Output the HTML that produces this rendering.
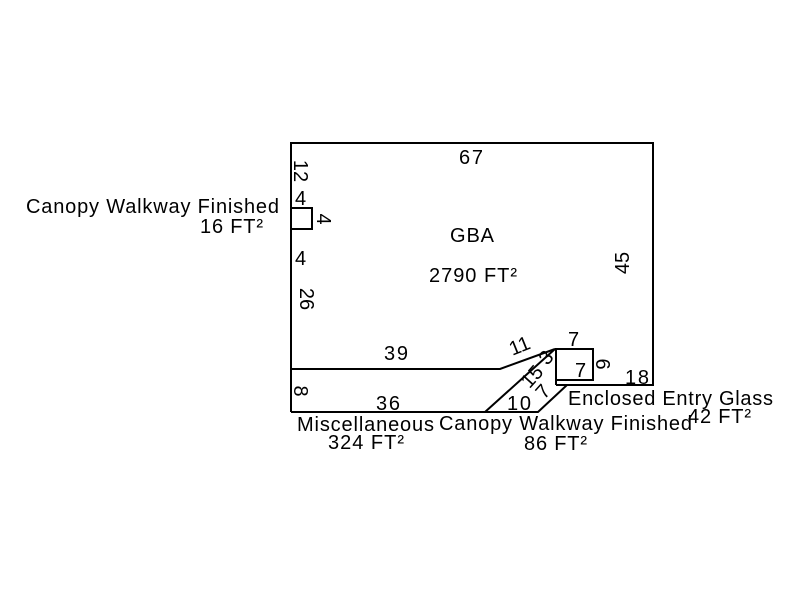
<!DOCTYPE html>
<html><head><style>
body{margin:0;background:#fff;}
svg text{font-family:"Liberation Sans",Arial,sans-serif;font-size:20px;fill:#000;}
</style></head><body>
<svg width="800" height="600" xmlns="http://www.w3.org/2000/svg">
<g fill="none" stroke="#000" stroke-width="2">
<polyline points="291,412 291,143 653,143 653,385 556,385"/>
<polyline points="291,369 500,369 555,349"/>
<line x1="291" y1="412" x2="485" y2="412"/>
<polyline points="555,349 485,412 538,412 567,385"/>
<rect x="556" y="349" width="37" height="31"/>
<line x1="556" y1="380" x2="556" y2="385"/>
<rect x="291" y="208" width="21" height="21"/>
</g>
<text x="459" y="164" textLength="24">67</text>
<text x="450" y="242" textLength="44">GBA</text>
<text x="429" y="282" textLength="88">2790 FT²</text>
<text transform="translate(629,263) rotate(-90)" text-anchor="middle">45</text>
<text transform="translate(294,171) rotate(90)" text-anchor="middle">12</text>
<text x="295" y="205">4</text>
<text transform="translate(317,219) rotate(90)" text-anchor="middle">4</text>
<text x="295" y="265">4</text>
<text transform="translate(300,299) rotate(90)" text-anchor="middle">26</text>
<text x="384" y="360" textLength="24">39</text>
<text transform="translate(294,391) rotate(90)" text-anchor="middle">8</text>
<text x="376" y="410" textLength="24">36</text>
<text transform="translate(522,352) rotate(-22)" text-anchor="middle">11</text>
<text transform="translate(537,381) rotate(-48)" text-anchor="middle">15</text>
<text transform="translate(551,362) rotate(-48)" text-anchor="middle">3</text>
<text transform="translate(548,396) rotate(-48)" text-anchor="middle">7</text>
<text x="507" y="410" textLength="24">10</text>
<text x="568" y="346">7</text>
<text x="575" y="377">7</text>
<text transform="translate(596,364) rotate(90)" text-anchor="middle">6</text>
<text x="625" y="384" textLength="24">18</text>
<text x="26" y="213" textLength="253">Canopy Walkway Finished</text>
<text x="200" y="233" textLength="63">16 FT²</text>
<text x="297" y="431" textLength="137">Miscellaneous</text>
<text x="328" y="449" textLength="76">324 FT²</text>
<text x="439" y="430" textLength="253">Canopy Walkway Finished</text>
<text x="524" y="450" textLength="63">86 FT²</text>
<text x="568" y="405" textLength="205">Enclosed Entry Glass</text>
<text x="688" y="423" textLength="63">42 FT²</text>
</svg>
</body></html>
